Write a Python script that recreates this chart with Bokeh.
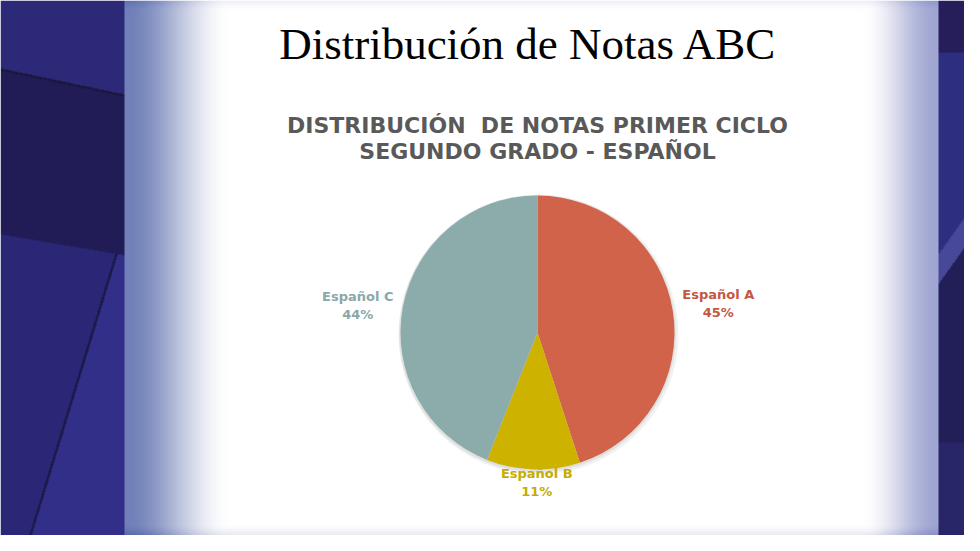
import numpy as np
from bokeh.plotting import figure
from bokeh.models import ColumnDataSource, Range1d
from bokeh.core.properties import value
from bokeh.embed import file_html
from bokeh.resources import INLINE

# ---- data ----
categories = ["Español A", "Español B", "Español C"]
percent = [45, 11, 44]
slice_colors = ["#D0634A", "#CDB300", "#8CABAB"]
label_colors = ["#C5573F", "#C4AC00", "#8AA8A8"]

main_title = "Distribución de Notas ABC"
chart_title = ["DISTRIBUCIÓN\u00a0 DE NOTAS PRIMER CICLO", "SEGUNDO GRADO - ESPAÑOL"]

W, H = 964, 535

p = figure(width=W, height=H, output_backend="svg", toolbar_location=None,
           x_range=Range1d(0, W), y_range=Range1d(0, H), min_border=0,
           outline_line_color=None, background_fill_color="white",
           border_fill_color="white")
p.axis.visible = False
p.grid.visible = False

# ---- background (slide decoration) ----
rx = np.arange(W) + 8.0            # reference x
ry = np.arange(H) + 8.0            # reference y (top->bottom)
X, Y = np.meshgrid(rx, ry)
img = np.full((H, W, 3), 255.0)

def smooth(t):
    t = np.clip(t, 0, 1)
    return t * t * (3 - 2 * t)

dark = np.zeros((H, W, 3))
f = 1 - smooth((X - 132) / 105.0)
f[X < 132] = 0
dark += f[..., None] * (255 - np.array([112, 128, 184]))
f = 1 - smooth((945 - X) / 75.0)
f[X > 945] = 0
dark += f[..., None] * (255 - np.array([160, 166, 210]))
f = 1 - smooth(Y / 18.0)
dark += f[..., None] * (255 - np.array([228, 230, 244]))
f = 1 - smooth((551 - Y) / 20.0)
dark += f[..., None] * (255 - np.array([215, 217, 232]))
img = np.clip(img - dark, 0, 255)

left = X < 132
right = X > 945
# left textures
img[left] = np.array([44, 42, 120])
b1 = 75 + 0.21 * X
b2 = 240 + 0.17 * X
img[left & (Y >= b1) & (Y < b2)] = np.array([34, 28, 86])
img[left & (Y >= b2)] = np.array([42, 39, 118])
diag = 130 - (Y - 240) * 0.306
img[left & (Y >= b2) & (X > diag)] = np.array([49, 47, 136])
img[left & (np.abs(Y - b1) < 1.2)] = np.array([26, 22, 62])
img[left & (Y >= b2) & (np.abs(X - diag) < 1.2)] = np.array([28, 24, 70])
# right textures
img[right] = np.array([46, 46, 128])
img[right & (Y < 60)] = np.array([38, 30, 90])
s = Y + (X - 945) * 1.4
img[right & (s > 262) & (s < 292)] = np.array([72, 72, 152])
img[right & (s >= 292) & (Y < 450)] = np.array([33, 30, 88])
img[right & (Y >= 450)] = np.array([40, 38, 105])

rgba = np.zeros((H, W, 4), dtype=np.uint8)
rgba[..., :3] = img.astype(np.uint8)
rgba[..., 3] = 255
rgba = rgba[::-1]
p.image_rgba(image=[rgba.view(np.uint32).reshape(H, W)], x=0, y=0, dw=W, dh=H)

# ---- titles ----
p.text(x=[528], y=[492], text=[main_title], text_font=value("Liberation Serif"),
       text_font_size="45px", text_color="black", text_align="center",
       text_baseline="middle")
p.text(x=[537, 537], y=[410, 384], text=chart_title,
       text_font=value("DejaVu Sans"), text_font_style="bold",
       text_font_size="22px", text_color="#595959", text_align="center",
       text_baseline="middle")

# ---- pie ----
cx, cy, R = 537, 203, 137
vals = np.array(percent, dtype=float)
frac = vals / vals.sum()
cum_end = np.cumsum(frac)
cum_start = cum_end - frac
start = np.radians(90 - cum_end * 360)
end = np.radians(90 - cum_start * 360)
mid = (start + end) / 2

src = ColumnDataSource(dict(cat=categories, start=start, end=end,
                            color=slice_colors))
p.circle(x=[cx + 1], y=[cy - 2], radius=R + 3, fill_color="#d8d8d8",
         fill_alpha=0.35, line_color=None)
p.circle(x=[cx], y=[cy - 1], radius=R + 1.5, fill_color="#cfcfcf",
         fill_alpha=0.5, line_color=None)
p.wedge(x=cx, y=cy, radius=R, start_angle="start", end_angle="end",
        direction="anticlock", fill_color="color", line_color=None, source=src)

# ---- labels ----
label_r = np.array([183, 150, 183])
label_dx = np.array([0, 4, 0])
label_dy = np.array([0, 0, -7])
lx = cx + label_r * np.cos(mid) + label_dx
ly = cy + label_r * np.sin(mid) + label_dy
labels = [f"{c}\n{v}%" for c, v in zip(categories, percent)]
p.text(x=lx, y=ly, text=labels, text_font=value("DejaVu Sans"),
       text_font_style="bold", text_font_size="13px", text_color=label_colors,
       text_align="center", text_baseline="middle", text_line_height=1.2)

open("out.html", "w").write(file_html(p, INLINE))
